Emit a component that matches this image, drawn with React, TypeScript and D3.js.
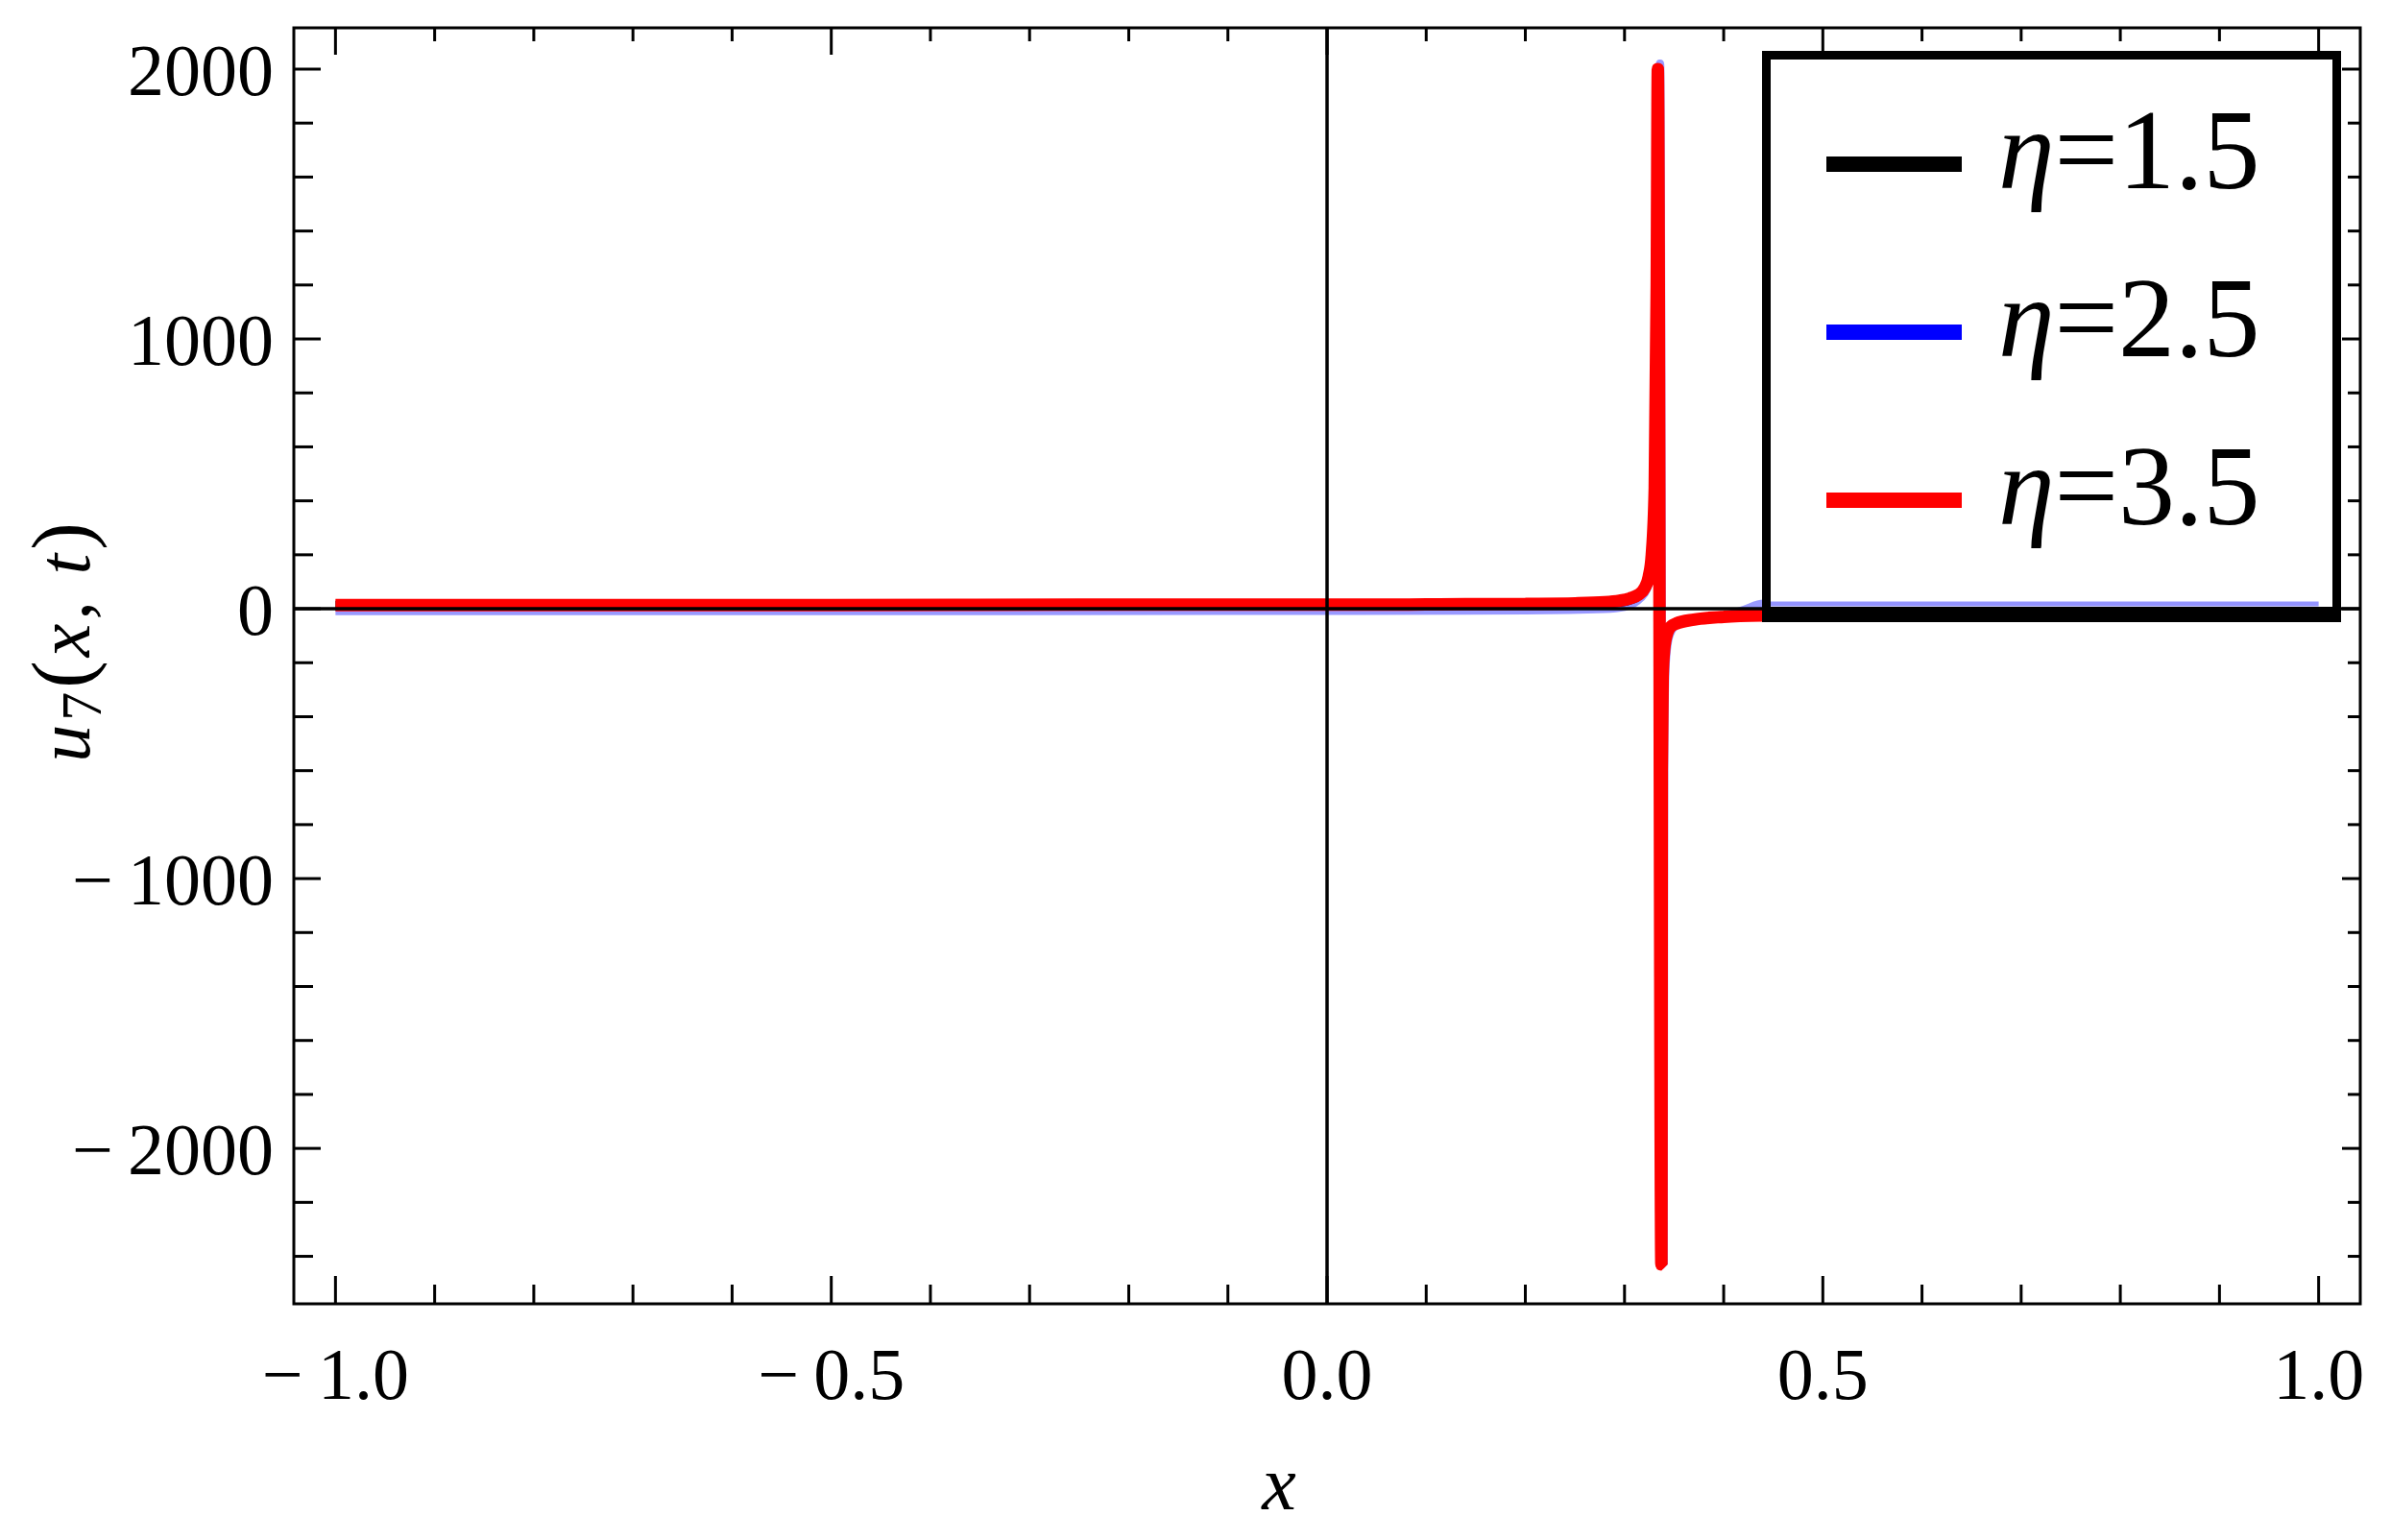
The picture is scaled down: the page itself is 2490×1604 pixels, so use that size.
import * as d3 from "d3";
import React from "react";

// readings taken off the reference figure
const xTickMajor = [-1.0, -0.5, 0.0, 0.5, 1.0];
const xTickMinor = [-0.9, -0.8, -0.7, -0.6, -0.4, -0.3, -0.2, -0.1, 0.1, 0.2, 0.3, 0.4, 0.6, 0.7, 0.8, 0.9];
const yTickMajor = [-2000, -1000, 0, 1000, 2000];
const yTickMinor = [-2400, -2200, -1800, -1600, -1400, -1200, -800, -600, -400, -200, 200, 400, 600, 800, 1200, 1400, 1600, 1800];

const seriesNames = ["\u03b7=1.5", "\u03b7=2.5", "\u03b7=3.5"];
const seriesColors = ["#000000", "#0000ff", "#ff0000"];

// eta = 1.5
const xEta15 = [-1.0, -0.5, 0.0, 0.2, 0.28, 0.3, 0.314, 0.32, 0.3245, 0.3275, 0.3305, 0.3334, 0.337, 0.3376, 0.3385, 0.34, 0.343, 0.347, 0.352, 0.37, 0.4, 0.5, 0.7, 1.0];
const uEta15 = [12, 12, 13, 16, 22, 28, 48, 70, 110, 190, 430, 1950, -2400, -600, -250, -150, -90, -65, -55, -40, -30, -24, -22, -22];

// eta = 2.5
const xEta25 = [-1.0, -0.5, 0.0, 0.2, 0.28, 0.3, 0.316, 0.3225, 0.3268, 0.3298, 0.3328, 0.3357, 0.3393, 0.3398, 0.3408, 0.3425, 0.346, 0.352, 0.36, 0.38, 0.4, 0.42, 0.44, 0.6, 0.8, 1.0];
const uEta25 = [-8, -8, -7, -5, 0, 8, 40, 75, 130, 220, 480, 2020, -2430, -600, -250, -150, -90, -60, -45, -35, -28, -5, 18, 18, 18, 18];

// eta = 3.5
const xEta35 = [-1.0, -0.75, -0.5, -0.25, 0.0, 0.1, 0.2, 0.25, 0.28, 0.295, 0.305, 0.314, 0.32, 0.3245, 0.3275, 0.3305, 0.3325, 0.3336, 0.3372, 0.3376, 0.3385, 0.34, 0.343, 0.347, 0.352, 0.37, 0.4, 0.44, 0.5, 0.7, 1.0];
const uEta35 = [14, 14, 14, 15, 15, 16, 18, 20, 24, 30, 38, 52, 75, 120, 200, 450, 1200, 2000, -2430, -600, -250, -150, -90, -65, -55, -40, -30, -25, -23, -22, -21];

const W = 2490;
const H = 1604;
const frame = { left: 306, right: 2458, top: 29, bottom: 1358 };
const font = "'Liberation Serif', 'Times New Roman', serif";

const fmt = (v: number, digits: number) => {
	const s = Math.abs(v).toFixed(digits);
	return v < 0 ? "\u2212\u2009" + s : s;
};

const App = () => {
	const x = d3.scaleLinear().domain([-1.042, 1.042]).range([frame.left, frame.right]);
	const y = d3.scaleLinear().domain([-2576, 2153]).range([frame.bottom, frame.top]);

	const line = d3
		.line<[number, number]>()
		.x((d) => x(d[0]))
		.y((d) => y(d[1]))
		.curve(d3.curveMonotoneX);

	const pts = (xs: number[], us: number[]) => xs.map((v, i) => [v, us[i]] as [number, number]);
	const pBlack = line(pts(xEta15, uEta15)) || "";
	const pBlue = line(pts(xEta25, uEta25)) || "";
	const pRed = line(pts(xEta35, uEta35)) || "";

	// legend box
	const lg = { left: 1835, right: 2438, top: 53, bottom: 648, bw: 9 };
	const rowY = [171, 346, 521];

	return (
		<svg width={W} height={H} style={{ position: "absolute", left: 0, top: 0, background: "#fff" }}>
			<defs>
				<clipPath id="legendInside">
					<rect x={lg.left + lg.bw} y={lg.top + lg.bw} width={lg.right - lg.left - 2 * lg.bw} height={632 - lg.top - lg.bw} />
				</clipPath>
			</defs>

			{/* curves */}
			<path d={pBlack} fill="none" stroke={seriesColors[0]} strokeWidth={10} strokeLinejoin="bevel" />
			<path d={pBlue} fill="none" stroke={seriesColors[1]} strokeOpacity={0.4} strokeWidth={9} strokeLinejoin="bevel" />
			<path d={pRed} fill="none" stroke={seriesColors[2]} strokeWidth={13} strokeLinejoin="bevel" />

			{/* zero axes */}
			<line x1={frame.left} x2={frame.right} y1={y(0)} y2={y(0)} stroke="#000" strokeWidth={3.5} />
			<line x1={x(0)} x2={x(0)} y1={frame.top} y2={frame.bottom} stroke="#000" strokeWidth={3.5} />

			{/* frame */}
			<rect x={frame.left} y={frame.top} width={frame.right - frame.left} height={frame.bottom - frame.top} fill="none" stroke="#000" strokeWidth={3} />

			{/* ticks */}
			<g stroke="#000" strokeWidth={3}>
				{xTickMajor.map((t) => (
					<g key={"xM" + t}>
						<line x1={x(t)} x2={x(t)} y1={frame.bottom} y2={frame.bottom - 29} />
						<line x1={x(t)} x2={x(t)} y1={frame.top} y2={frame.top + 28} />
					</g>
				))}
				{xTickMinor.map((t) => (
					<g key={"xm" + t}>
						<line x1={x(t)} x2={x(t)} y1={frame.bottom} y2={frame.bottom - 20} />
						<line x1={x(t)} x2={x(t)} y1={frame.top} y2={frame.top + 14} />
					</g>
				))}
				{yTickMajor.map((t) => (
					<g key={"yM" + t}>
						<line x1={frame.left} x2={frame.left + 28} y1={y(t)} y2={y(t)} />
						<line x1={frame.right} x2={frame.right - 19} y1={y(t)} y2={y(t)} />
					</g>
				))}
				{yTickMinor.map((t) => (
					<g key={"ym" + t}>
						<line x1={frame.left} x2={frame.left + 20} y1={y(t)} y2={y(t)} />
						<line x1={frame.right} x2={frame.right - 13} y1={y(t)} y2={y(t)} />
					</g>
				))}
			</g>

			{/* tick labels */}
			<g fontFamily={font} fontSize={76} fill="#000">
				{xTickMajor.map((t) => (
					<text key={"xl" + t} x={x(t)} y={1457} textAnchor="middle">
						{fmt(t, 1)}
					</text>
				))}
				{yTickMajor.map((t) => (
					<text key={"yl" + t} x={285} y={y(t) + 27} textAnchor="end">
						{fmt(t, 0)}
					</text>
				))}
			</g>

			{/* axis labels */}
			<text x={1332} y={1572} textAnchor="middle" fontFamily={font} fontSize={80} fontStyle="italic">
				x
			</text>
			<text transform="translate(93,667) rotate(-90)" textAnchor="middle" fontFamily={font} fontSize={78} letterSpacing={4}>
				<tspan fontStyle="italic">u</tspan>
				<tspan fontSize={60} dy={12}>7</tspan>
				<tspan dy={-12} fontSize={86}>(</tspan>
				<tspan fontStyle="italic">x</tspan>
				<tspan>, </tspan>
				<tspan fontStyle="italic">t</tspan>
				<tspan fontSize={86}>)</tspan>
			</text>

			{/* legend */}
			<rect
				x={lg.left + lg.bw / 2}
				y={lg.top + lg.bw / 2}
				width={lg.right - lg.left - lg.bw}
				height={lg.bottom - lg.top - lg.bw}
				fill="#fff"
				stroke="#000"
				strokeWidth={lg.bw}
			/>
			<rect x={lg.left} y={632} width={lg.right - lg.left} height={lg.bottom - 632} fill="#000" />
			<path d={pBlue} fill="none" stroke={seriesColors[1]} strokeOpacity={0.42} strokeWidth={5} clipPath="url(#legendInside)" />
			{seriesNames.map((name, i) => (
				<g key={name}>
					<line x1={1902} x2={2043} y1={rowY[i]} y2={rowY[i]} stroke={seriesColors[i]} strokeWidth={16} />
					<text x={2081} y={rowY[i] + 25} fontFamily={font} fontSize={118} fill="#000">
						<tspan fontStyle="italic">{name.slice(0, 1)}</tspan>
						<tspan>{name.slice(1)}</tspan>
					</text>
				</g>
			))}
		</svg>
	);
};

export default App;
